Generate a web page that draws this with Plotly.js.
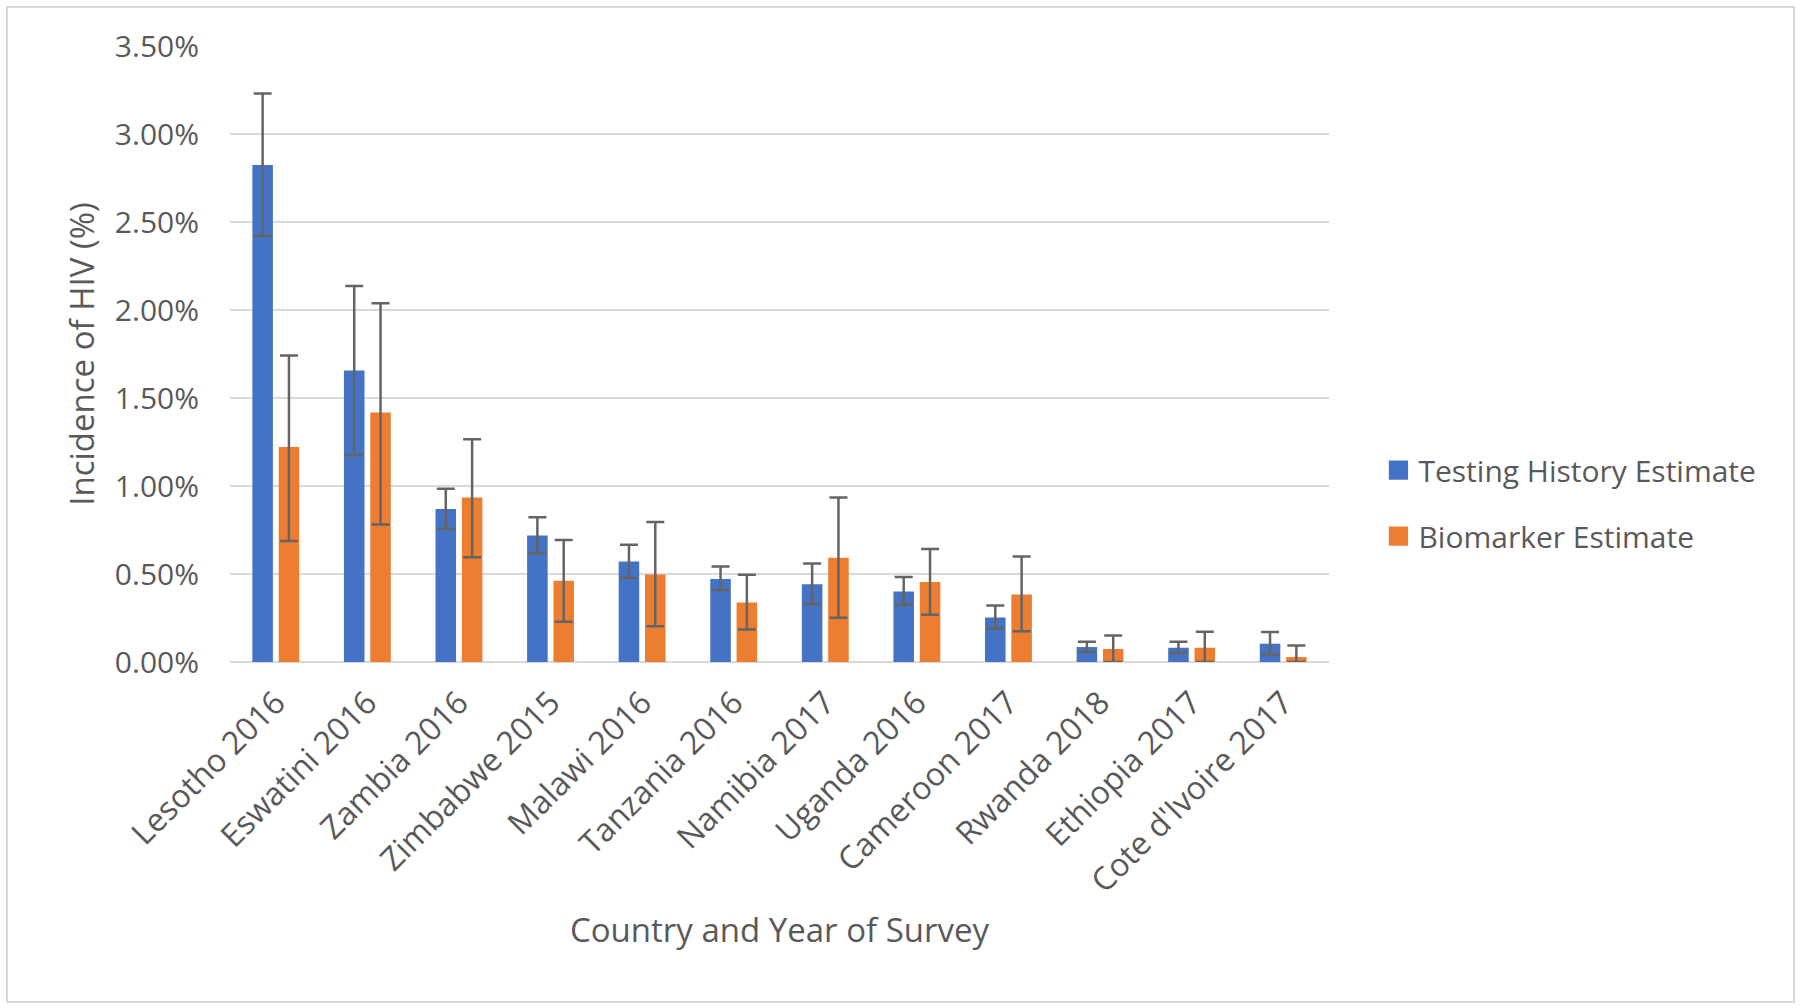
<!DOCTYPE html>
<html>
<head>
<meta charset="utf-8">
<script src="https://cdn.plot.ly/plotly-3.0.1.min.js"></script>
<style>
  html, body { margin: 0; padding: 0; background: #ffffff; }
  #wrap { position: relative; width: 1800px; height: 1008px; }
  #chart { position: absolute; left: 0; top: 0; width: 1800px; height: 1008px; }
  #frame { position: absolute; left: 6px; top: 6px; width: 1785px; height: 993px; border: 2px solid #d9d9d9; pointer-events: none; }
</style>
</head>
<body>
<div id="wrap">
  <div id="chart"></div>
  <div id="frame"></div>
</div>
<script>
// Categories
const countries = ["Lesotho 2016", "Eswatini 2016", "Zambia 2016", "Zimbabwe 2015", "Malawi 2016", "Tanzania 2016",
                   "Namibia 2017", "Uganda 2016", "Cameroon 2017", "Rwanda 2018", "Ethiopia 2017", "Cote d'Ivoire 2017"];

// Testing History Estimate (% incidence) with 95% CI
const testingEst   = [2.824, 1.656, 0.870, 0.719, 0.571, 0.472, 0.442, 0.400, 0.253, 0.085, 0.081, 0.104];
const testingUpper = [3.230, 2.136, 0.984, 0.822, 0.666, 0.543, 0.560, 0.483, 0.321, 0.115, 0.115, 0.170];
const testingLower = [2.420, 1.175, 0.757, 0.616, 0.478, 0.408, 0.330, 0.325, 0.191, 0.058, 0.053, 0.043];

// Biomarker Estimate (% incidence) with 95% CI
const bioEst   = [1.221, 1.417, 0.934, 0.461, 0.497, 0.338, 0.592, 0.455, 0.383, 0.074, 0.081, 0.028];
const bioUpper = [1.742, 2.038, 1.266, 0.693, 0.795, 0.496, 0.934, 0.642, 0.600, 0.151, 0.172, 0.094];
const bioLower = [0.688, 0.781, 0.595, 0.229, 0.203, 0.185, 0.251, 0.268, 0.175, 0.000, 0.000, 0.000];

// Y ticks
const yTickVals = [0, 0.5, 1.0, 1.5, 2.0, 2.5, 3.0, 3.5];
const yTickText = ["0.00%", "0.50%", "1.00%", "1.50%", "2.00%", "2.50%", "3.00%", "3.50%"];

const plus = (hi, v) => hi.map((h, i) => h - v[i]);
const minus = (lo, v) => lo.map((l, i) => v[i] - l);

const errStyle = { color: "#646464", thickness: 2.5, width: 9 };
const textColor = "#595959";
const fontFam = "'Open Sans', sans-serif";

const traces = [
  {
    type: "bar", name: "Testing History Estimate", legendgroup: "a",
    x: countries, y: testingEst,
    marker: { color: "#4472C4" },
    error_y: Object.assign({ type: "data", symmetric: false, array: plus(testingUpper, testingEst), arrayminus: minus(testingLower, testingEst) }, errStyle)
  },
  {
    type: "bar", name: "Biomarker Estimate", legendgroup: "b",
    x: countries, y: bioEst,
    marker: { color: "#ED7D31" },
    error_y: Object.assign({ type: "data", symmetric: false, array: plus(bioUpper, bioEst), arrayminus: minus(bioLower, bioEst) }, errStyle)
  }
];

const layout = {
  width: 1800, height: 1008,
  margin: { l: 230, r: 471, t: 46, b: 346 },
  paper_bgcolor: "#ffffff", plot_bgcolor: "#ffffff",
  font: { family: fontFam, color: textColor, size: 30 },
  barmode: "group", bargap: 0.425, bargroupgap: 0.22,
  showlegend: true,
  legend: {
    x: 1.045, xanchor: "left", y: 0.258, yanchor: "middle",
    font: { family: fontFam, size: 30, color: textColor },
    traceorder: "grouped", tracegroupgap: 24,
    bgcolor: "rgba(0,0,0,0)"
  },
  xaxis: {
    type: "category",
    tickangle: -45,
    tickfont: { family: fontFam, size: 32, color: textColor },
    showgrid: false, showline: false,
    ticks: "outside", ticklen: 8, tickcolor: "rgba(0,0,0,0)",
    title: { text: "Country and Year of Survey", font: { family: fontFam, size: 33, color: textColor }, standoff: 18 }
  },
  yaxis: {
    range: [0, 3.5], tickvals: yTickVals, ticktext: yTickText,
    tickfont: { family: fontFam, size: 30, color: textColor },
    showgrid: true, gridcolor: "#d9d9d9", gridwidth: 2,
    zeroline: true, zerolinecolor: "#d9d9d9", zerolinewidth: 2,
    showline: false,
    ticks: "outside", ticklen: 24, tickcolor: "rgba(0,0,0,0)",
    title: { text: "Incidence of HIV (%)", font: { family: fontFam, size: 33, color: textColor }, standoff: 10 }
  }
};

Plotly.newPlot("chart", traces, layout, { displayModeBar: false, staticPlot: true }).then(() => {
  document.querySelectorAll("#chart .legend .legendpoints path").forEach(p => {
    const t = p.getAttribute("transform") || "";
    p.setAttribute("transform", t + " scale(1.6)");
  });
});
</script>
</body>
</html>
